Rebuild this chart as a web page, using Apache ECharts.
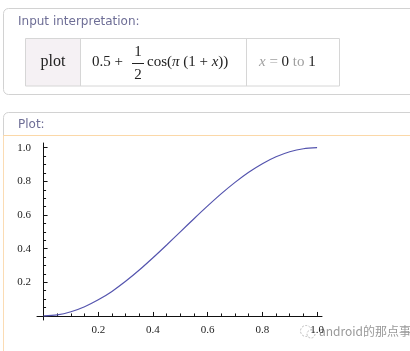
<!DOCTYPE html>
<html>
<head>
<meta charset="utf-8">
<script src="https://cdn.jsdelivr.net/npm/echarts@6/dist/echarts.min.js"></script>
<style>
  html, body { margin: 0; padding: 0; background: #fff; }
  #chart { width: 410px; height: 351px; }
</style>
</head>
<body>
<div id="chart"></div>
<script>
// values, x from 0 to 1 in steps of 0.05
let xs = [0, 0.05, 0.1, 0.15, 0.2, 0.25, 0.3, 0.35, 0.4, 0.45, 0.5,
          0.55, 0.6, 0.65, 0.7, 0.75, 0.8, 0.85, 0.9, 0.95, 1.0]
let ys = [0, 0.006, 0.025, 0.055, 0.096, 0.146, 0.206, 0.273, 0.346, 0.422, 0.5,
          0.578, 0.654, 0.727, 0.794, 0.854, 0.905, 0.946, 0.976, 0.994, 1.0]
let xLabels = [0.2, 0.4, 0.6, 0.8, 1.0]
let yLabels = [0.2, 0.4, 0.6, 0.8, 1.0]
let xMinor = [0.05, 0.1, 0.15, 0.25, 0.3, 0.35, 0.45, 0.5, 0.55, 0.65, 0.7, 0.75, 0.85, 0.9, 0.95]
let yMinor = [0.05, 0.1, 0.15, 0.25, 0.3, 0.35, 0.45, 0.5, 0.55, 0.65, 0.7, 0.75, 0.85, 0.9, 0.95]

let myChart = echarts.init(document.getElementById("chart"))

let serif = "'Liberation Serif', 'DejaVu Serif', serif"
let sans = "'DejaVu Sans', Verdana, sans-serif"

let tickLabel = {
    fontFamily: serif,
    fontSize: 11,
    color: "#222",
    formatter: (v) => Number(v).toFixed(1),
}

let graphic = [
    // input interpretation panel
    { type: "rect", z: -10, shape: { x: 3.5, y: 8.5, width: 430, height: 86, r: 5 },
      style: { fill: "#fff", stroke: "#d2d2d2", lineWidth: 1 } },
    { type: "text", x: 18, y: 22, style: { text: "Input interpretation:", font: "12px " + sans, fill: "#6e6e96", verticalAlign: "middle" } },
    // table
    { type: "rect", shape: { x: 25.5, y: 38.5, width: 55, height: 47.5 }, style: { fill: "#f5f1f4", stroke: "none" } },
    { type: "rect", shape: { x: 25.5, y: 38.5, width: 314, height: 47.5 }, style: { fill: "none", stroke: "#d6d6d6" } },
    { type: "line", shape: { x1: 80.5, y1: 38.5, x2: 80.5, y2: 86 }, style: { stroke: "#d6d6d6" } },
    { type: "line", shape: { x1: 246.5, y1: 38.5, x2: 246.5, y2: 86 }, style: { stroke: "#d6d6d6" } },
    { type: "text", x: 53, y: 62, style: { text: "plot", font: "16px " + serif, fill: "#222", align: "center", verticalAlign: "middle" } },
    { type: "text", x: 92, y: 62, style: { text: "0.5 +", font: "15px " + serif, fill: "#222", verticalAlign: "middle" } },
    { type: "text", x: 138, y: 52, style: { text: "1", font: "15px " + serif, fill: "#222", align: "center", verticalAlign: "middle" } },
    { type: "line", shape: { x1: 132, y1: 63.5, x2: 144, y2: 63.5 }, style: { stroke: "#222", lineWidth: 1 } },
    { type: "text", x: 138, y: 75, style: { text: "2", font: "15px " + serif, fill: "#222", align: "center", verticalAlign: "middle" } },
    { type: "text", x: 147, y: 62, style: {
        text: "{n|cos(}{i|π}{n| (1 + }{i|x}{n|))}", verticalAlign: "middle",
        rich: {
            n: { fontFamily: serif, fontSize: 15, fill: "#222" },
            i: { fontFamily: serif, fontSize: 15, fontStyle: "italic", fill: "#222" },
        } } },
    { type: "text", x: 259, y: 62, style: {
        text: "{g|x}{h| = }{n|0}{h| to }{n|1}", verticalAlign: "middle",
        rich: {
            g: { fontFamily: serif, fontSize: 15, fontStyle: "italic", fill: "#a0a0a0" },
            h: { fontFamily: serif, fontSize: 15, fill: "#a0a0a0" },
            n: { fontFamily: serif, fontSize: 15, fill: "#222" },
        } } },

    // plot panel
    { type: "rect", z: -10, shape: { x: 3.5, y: 112.5, width: 430, height: 280, r: 5 },
      style: { fill: "#fff", stroke: "#d2d2d2", lineWidth: 1 } },
    { type: "text", x: 18, y: 125, style: { text: "Plot:", font: "12px " + sans, fill: "#6e6e96", verticalAlign: "middle" } },
    { type: "line", z: -5, shape: { x1: 3.5, y1: 135.5, x2: 410, y2: 135.5 }, style: { stroke: "#fbd8a8", lineWidth: 1 } },
    { type: "line", z: -5, shape: { x1: 3.5, y1: 135.5, x2: 3.5, y2: 351 }, style: { stroke: "#fbdcb4", lineWidth: 1 } },

    // watermark
    { type: "circle", shape: { cx: 306, cy: 331, r: 5.5 }, style: { fill: "none", stroke: "#bdbdbd", lineWidth: 1, lineDash: [2, 1.5] } },
    { type: "circle", shape: { cx: 311, cy: 334, r: 4 }, style: { fill: "#fff", stroke: "#bdbdbd", lineWidth: 1, lineDash: [2, 1.5] } },
    { type: "text", x: 319, y: 331, style: { text: "android的那点事", font: "12px 'Noto Sans CJK SC', sans-serif", fill: "#999", stroke: "#fff", lineWidth: 2, verticalAlign: "middle" } },
]

let option = {
    animation: false,
    backgroundColor: "#fff",
    graphic: graphic,
    grid: { left: 37, right: 88, top: 143, bottom: 31 },
    xAxis: [
        {
            type: "value", min: -0.024, max: 1.018, position: "bottom",
            axisLine: { onZero: true, lineStyle: { color: "#111", width: 1 } },
            axisTick: { inside: true, length: 4, customValues: xLabels, lineStyle: { color: "#111" } },
            axisLabel: { ...tickLabel, margin: 5, customValues: xLabels },
            splitLine: { show: false },
        },
        {
            type: "value", min: -0.024, max: 1.018, position: "bottom",
            axisLine: { show: false, onZero: true },
            axisTick: { inside: true, length: 2.5, customValues: xMinor, lineStyle: { color: "#111" } },
            axisLabel: { show: false },
            splitLine: { show: false },
        },
    ],
    yAxis: [
        {
            type: "value", min: -0.024, max: 1.028, position: "left",
            axisLine: { onZero: true, lineStyle: { color: "#111", width: 1 } },
            axisTick: { inside: true, length: 4, customValues: yLabels, lineStyle: { color: "#111" } },
            axisLabel: { ...tickLabel, margin: 6, customValues: yLabels },
            splitLine: { show: false },
        },
        {
            type: "value", min: -0.024, max: 1.028, position: "left",
            axisLine: { show: false, onZero: true },
            axisTick: { inside: true, length: 2.5, customValues: yMinor, lineStyle: { color: "#111" } },
            axisLabel: { show: false },
            splitLine: { show: false },
        },
    ],
    series: [
        {
            type: "line",
            xAxisIndex: 0,
            yAxisIndex: 0,
            data: xs.map((x, i) => [x, ys[i]]),
            smooth: 0.3,
            showSymbol: false,
            lineStyle: { color: "#5454ae", width: 1.2 },
            z: 5,
        },
    ],
}

myChart.setOption(option)
</script>
</body>
</html>
